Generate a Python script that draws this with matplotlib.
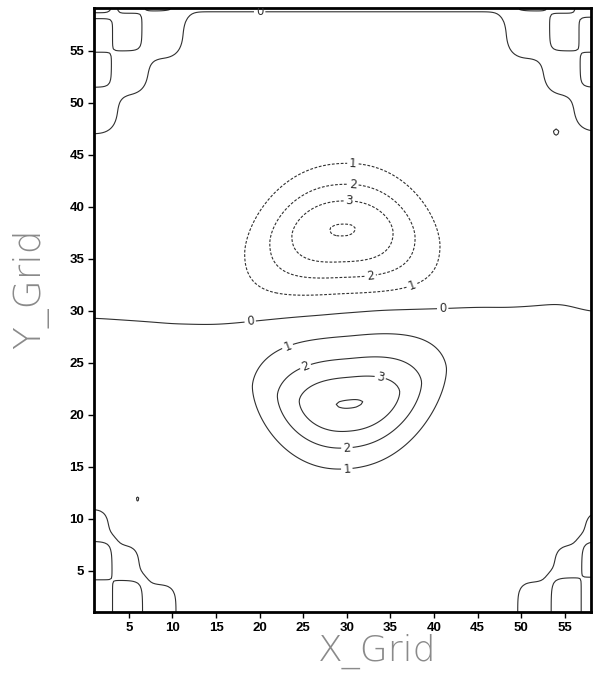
import numpy as np
import matplotlib
matplotlib.use("Agg")
import matplotlib.pyplot as plt

# ---------------- data ----------------
x_limits = [1, 58]
y_limits = [1, 59]
x_ticks = [5, 10, 15, 20, 25, 30, 35, 40, 45, 50, 55]
y_ticks = [5, 10, 15, 20, 25, 30, 35, 40, 45, 50, 55]
contour_levels = [-4, -3, -2, -1, 0, 1, 2, 3, 4]

# two main cells: lower positive, upper negative
cell_x = [30.3, 29.5]
cell_y = [21.1, 37.9]
cell_peak = [3.9, -3.9]
cell_width_x = [9.35, 9.45]
cell_width_up = [5.2, 5.0]
cell_width_down = [5.0, 5.5]
cell_shape_up = [1.6, 1.85]
cell_shape_down = [1.85, 2.2]
cell_bend = [0.02, -0.017]
cell_tilt = [0.075, 0.03]

# weak background on both sides of the zero line
zero_line_x = [1, 10, 19, 27, 34, 41, 48, 54.5, 58]
zero_line_y = [29.3, 28.8, 29.1, 29.0, 30.2, 30.0, 30.2, 30.7, 29.9]
background_value = 0.15
top_row_value = 0.12
top_row_depth = 0.4

# corner block patterns (edges counted from the corner, values [column][row])
ul_col_edges = [2.0, 5.6, 9.5]
ul_row_edges = [0.4, 4.0, 7.6, 11.3]
ul_base = 0.4
ul_values = [[3.2, 0.6, 1.4, 0.4], [0.6, 1.4, 0.4], [1.3, 0.4]]

ur_col_edges = [1.3, 4.9, 9.0]
ur_row_edges = [0.4, 4.0, 7.6, 11.0]
ur_base = 0.4
ur_values = [[2.4, 0.6, 1.4, 0.4], [0.6, 1.4, 0.4], [1.3, 0.4]]

ll_col_edges = [2.0, 5.7, 9.8]
ll_row_edges = [3.2, 6.8, 10.3]
ll_base = 1.4
ll_values = [[1.5, 2.5, 1.4], [2.5, 1.4], [1.4]]

lr_col_edges = [1.0, 4.7, 8.8]
lr_row_edges = [3.3, 6.8, 10.2]
lr_base = 1.4
lr_values = [[1.5, 2.5, 1.4], [2.5, 1.4], [1.4]]

# two tiny isolated spots
spot_x = [6.0, 54.0]
spot_y = [11.9, 47.2]
spot_amp = [1.15, 0.3]

# contour label anchors
label_points = [(30.7, 44.3), (37.6, 32.1), (30.7, 42.3), (32.6, 33.9), (30.3, 40.6),
                (23.0, 27.0), (30.0, 14.7), (25.0, 25.2), (30.0, 16.9), (34.0, 24.3),
                (18.9, 29.1), (41.0, 30.0), (20.0, 58.7)]

# ---------------- build the field ----------------
step = 0.25
xs = np.arange(x_limits[0], x_limits[1] + step / 2, step)
ys = np.arange(y_limits[0], y_limits[1] + step / 2, step)
X, Y = np.meshgrid(xs, ys)

y0 = np.interp(X, zero_line_x, zero_line_y)
Zbase = -background_value * np.tanh((Y - y0) / 1.0)
Zbox = np.zeros_like(Zbase)

assigned = np.zeros_like(Zbase, dtype=bool)
corners = [
    (X - x_limits[0], y_limits[1] - Y, ul_col_edges, ul_row_edges, ul_base, ul_values),
    (x_limits[1] - X, y_limits[1] - Y, ur_col_edges, ur_row_edges, ur_base, ur_values),
    (X - x_limits[0], Y - y_limits[0], ll_col_edges, ll_row_edges, ll_base, ll_values),
    (x_limits[1] - X, Y - y_limits[0], lr_col_edges, lr_row_edges, lr_base, lr_values),
]
for dxc, dyc, ce, re, base, vals in corners:
    ci = np.searchsorted(ce, dxc)
    ri = np.searchsorted(re, dyc)
    for c, col in enumerate(vals):
        for r, v in enumerate(col):
            m = (ci == c) & (ri == r)
            Zbase[m] = base
            Zbox[m] = v - base
            assigned |= m

top = (y_limits[1] - Y < top_row_depth) & ~assigned
Zbase[top] = top_row_value


def smooth(a, s):
    r = int(4 * s) + 1
    k = np.exp(-0.5 * (np.arange(-r, r + 1) / s) ** 2)
    k /= k.sum()
    a = np.pad(a, r, mode="edge")
    a = np.apply_along_axis(lambda m: np.convolve(m, k, mode="valid"), 0, a)
    a = np.apply_along_axis(lambda m: np.convolve(m, k, mode="valid"), 1, a)
    return a


Z = smooth(Zbase, 4.0) + smooth(Zbox, 2.0)

for cx, cy, A, sx, su, sd, pu, pd, b, t in zip(cell_x, cell_y, cell_peak, cell_width_x,
                                                cell_width_up, cell_width_down,
                                                cell_shape_up, cell_shape_down,
                                                cell_bend, cell_tilt):
    dx = X - cx
    dy = (Y - cy) - b * dx ** 2 - t * dx
    sy = np.where(dy > 0, su, sd)
    py = np.where(dy > 0, pu, pd)
    Z += A * np.exp(-(np.abs(dx) / sx) ** 2.4 - np.abs(dy / sy) ** py)

for sx_, sy_, a in zip(spot_x, spot_y, spot_amp):
    Z += a * np.exp(-((X - sx_) ** 2 + (Y - sy_) ** 2) / (2 * 0.25 ** 2))

# ---------------- draw ----------------
fig = plt.figure(figsize=(5.93, 6.73), dpi=100)
ax = fig.add_axes([94 / 593, (673 - 612.3) / 673, 497 / 593, 604 / 673])

styles = [(0, (2.5, 1.5)) if l < 0 else "solid" for l in contour_levels]
cs = ax.contour(X, Y, Z, levels=contour_levels, colors="#303030",
                linewidths=0.8, linestyles=styles)
ax.clabel(cs, manual=label_points, fmt=lambda v: f"{abs(v):.0f}",
          fontsize=8.5, inline=True, inline_spacing=2, colors="#303030")

ax.set_xlim(x_limits[0], x_limits[1])
ax.set_ylim(y_limits[0], y_limits[1] + 0.1)
ax.set_xticks(x_ticks)
ax.set_yticks(y_ticks)
ax.tick_params(direction="out", length=4.5, width=1, labelsize=9.5, pad=2.5)
for lab in ax.get_xticklabels() + ax.get_yticklabels():
    lab.set_fontweight("bold")
    lab.set_family("Liberation Sans")
for sp in ax.spines.values():
    sp.set_linewidth(2)

fig.text(377 / 593, 1 - 661 / 673, "X_Grid", ha="center", va="baseline",
         fontsize=26, color="#8a8a8a", fontweight="light")
fig.text(31 / 593, 1 - 289 / 673, "Y_Grid", ha="center", va="center",
         rotation=90, fontsize=27, color="#8a8a8a", fontweight="light")

fig.savefig("out.png", dpi=100)
